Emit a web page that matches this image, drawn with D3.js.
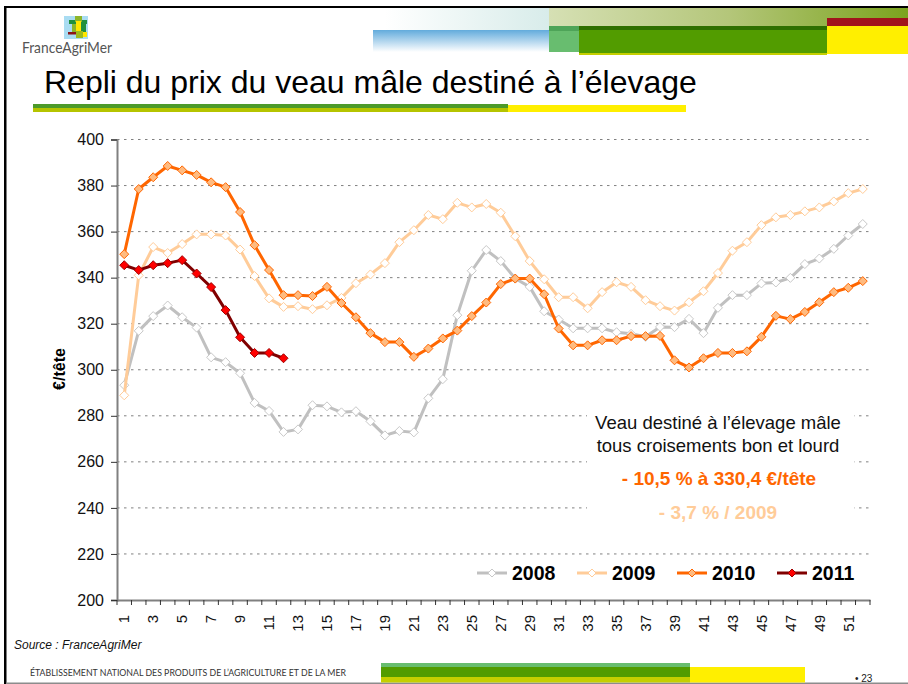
<!DOCTYPE html>
<html><head><meta charset="utf-8">
<script src="https://cdn.jsdelivr.net/npm/d3@7"></script>
<style>
html,body{margin:0;padding:0;background:#fff}
svg{display:block}
text{font-family:"Liberation Sans",Arial,sans-serif}
</style></head><body>
<svg id="c" width="908" height="684"></svg>
<script>
const weeks = d3.range(1, 53);
const yTicks = [200,220,240,260,280,300,320,340,360,380,400];
const v2008 = [293.3,316.9,323.3,327.9,322.8,318.3,305.4,303.3,298.5,285.6,282.1,273,274.1,284.6,284.1,281.5,282,277.6,271.5,273.4,272.8,287.6,295.9,323.7,343,352,347.2,339.6,336,325.4,321.8,318,318,318,316.3,315.6,314.3,318.6,318.5,322.1,315.9,326.9,332.4,332.4,337.5,337.9,339.9,345.9,348.3,352.5,358.3,363.3];
const v2009 = [288.9,341,353.3,350.7,354.6,358.8,358.8,358.3,352.2,340.7,331,327.3,327.6,326.3,328,331.2,337.6,341.4,346.3,355.4,360.6,367.2,365.4,372.5,370.5,372,368.2,358,347.2,339.3,331.5,331.5,326.7,333.7,338,336,330.2,327.6,325.7,329.3,334.1,342,351.7,355.4,362.8,366.2,367.2,368.8,370.5,373.1,376.7,378.5];
const v2010 = [350.2,378.5,383.6,388.5,386.6,384.6,381.4,379.3,368.5,354.1,343.3,332.4,332.4,332,336,329,322.8,315.9,312,312,305.6,309.2,313.6,317,323.3,329.2,337.2,339.6,339.6,332.8,317.9,310.6,310.6,312.8,312.8,314.6,314.6,314.7,304.1,301,305,307.3,307.3,308,314.3,323.4,322,325.1,329.3,333.7,335.6,338.5];
const v2011 = [345.4,343.3,345.4,346.3,347.6,341.8,335.9,325.9,314.1,307.3,307.3,305];
const seriesNames = ["2008","2009","2010","2011"];
const seriesValues = [v2008,v2009,v2010,v2011];
const lineColors = ["#c0c0c0","#ffcc99","#ff6600","#800000"];
const markerFills = ["#ffffff","#ffffff","#ffbb80","#ff0000"];
const markerStrokes = ["#c8c8c8","#ffcc99","#ff6600","#a00000"];
const legendX = [477,577,677,777];

const svg = d3.select("#c");
const defs = svg.append("defs");
function grad(id, stops, vertical){
  const g = defs.append("linearGradient").attr("id",id)
    .attr("x1",0).attr("y1",0).attr("x2",vertical?0:1).attr("y2",vertical?1:0);
  stops.forEach(s=>g.append("stop").attr("offset",s[0]).attr("stop-color",s[1]));
}
grad("olive",[[0,"#d6e0b4"],[0.5,"#b4c67a"],[1,"#7ba41e"]]);
grad("pale",[[0,"#ffffff"],[1,"#d8ecea"]]);
grad("blue",[[0,"#62abdc"],[1,"#ffffff"]],true);

function box(x,y,w,h,fill){ svg.append("rect").attr("x",x).attr("y",y).attr("width",w).attr("height",h).attr("fill",fill); }

// header decoration
box(385,8,164,22,"url(#pale)");
box(373,30,176,22,"url(#blue)");
box(549,8,359,18,"url(#olive)");
box(549,26,30,5,"#4ea458");
box(549,31,30,21,"#68bd6f");
box(579,26,248,4,"#2f6f00");
box(579,30,248,23,"#529c00");
box(579,53,248,2,"#c5cf00");
box(827,18,81,8,"#a0141c");
box(827,26,81,28,"#ffef00");

// frame
box(4,6,2.5,678,"#000");
box(4,6,904,2,"#000");
box(6,682.5,902,1.5,"#8c8c8c");

// logo
box(64,16,24,23,"#a9dcf2");
box(69,20,18,4,"#1f8f3e");
box(75,16,7,6,"#8db52a");
box(72,24,4,8,"#8db52a");
box(76,21,5,10,"#ffe600");
box(81,23,5,9,"#1f8f3e");
box(68,32,8,2.5,"#8c1414");
box(76,31,7,7,"#9dbb1e");
box(83,32,4,5,"#ffe600");
svg.append("text").attr("x",22).attr("y",53).text("FranceAgriMer")
  .attr("textLength",90).attr("lengthAdjust","spacingAndGlyphs")
  .style("font-family","Lato").style("font-size","16px").attr("fill","#555");

// title
svg.append("text").attr("x",44).attr("y",93).text("Repli du prix du veau mâle destiné à l’élevage")
  .style("font-size","32px").attr("fill","#000");
box(33,104,475,4,"#4c9a2a");
box(33,108,475,4,"#b5c400");
box(508,105,178,7,"#ffef00");

// scales
const x = d3.scaleBand().domain(weeks).range([117,870]);
const y = d3.scaleLinear().domain([200,400]).range([600,139.5]);

// grid
svg.append("g").selectAll("line").data(yTicks.filter(t=>t>200)).join("line")
  .attr("x1",117).attr("x2",870).attr("y1",d=>y(d)).attr("y2",d=>y(d))
  .attr("stroke","#808080").attr("stroke-width",1).attr("stroke-dasharray","2.5 4.5");

// text mask
box(587,410,267,115,"#fff");

// axes
const yAxis = d3.axisLeft(y).tickValues(yTicks).tickSize(6).tickPadding(7).tickFormat(d3.format("d"));
const gy = svg.append("g").attr("transform","translate(117,0)").call(yAxis);
gy.select(".domain").attr("stroke","#808080").attr("stroke-width",2);
gy.selectAll(".tick line").attr("stroke","#333");
gy.selectAll("text").style("font-family","Liberation Sans").style("font-size","16px").attr("fill","#111");

const xAxis = d3.axisBottom(x).tickValues(weeks.filter(w=>w%2===1)).tickSize(0).tickPadding(0);
const gx = svg.append("g").attr("transform","translate(0,600)").call(xAxis);
gx.select(".domain").attr("stroke","#808080").attr("stroke-width",2);
gx.selectAll("text").attr("transform","rotate(-90)").attr("x",-15).attr("y",0)
  .attr("dy","0.35em").attr("text-anchor","end")
  .style("font-family","Liberation Sans").style("font-size","15px").attr("fill","#111");
svg.append("g").selectAll("line").data(weeks.concat([53])).join("line")
  .attr("x1",d=>d<53?x(d):870).attr("x2",d=>d<53?x(d):870).attr("y1",600).attr("y2",605)
  .attr("stroke","#333");

// y title
svg.append("text").attr("transform","translate(65,369) rotate(-90)").attr("text-anchor","middle")
  .text("€/tête").style("font-size","16px").style("font-weight","bold").attr("fill","#000");

// series
const line = d3.line().x((d,i)=>x(weeks[i])+x.bandwidth()/2).y(d=>y(d));
const diamond = (cx,cy,r)=>`M${cx},${cy-r}L${cx+r},${cy}L${cx},${cy+r}L${cx-r},${cy}Z`;
seriesValues.forEach((vals,k)=>{
  svg.append("path").attr("d",line(vals)).attr("fill","none")
    .attr("stroke",lineColors[k]).attr("stroke-width",3).attr("stroke-linejoin","round");
  svg.append("g").selectAll("path").data(vals).join("path")
    .attr("d",(d,i)=>diamond(x(weeks[i])+x.bandwidth()/2,y(d),4.5))
    .attr("fill",markerFills[k]).attr("stroke",markerStrokes[k]).attr("stroke-width",1);
});

// notes
function note(cx,by,t,size,weight,fill){
  svg.append("text").attr("x",cx).attr("y",by).attr("text-anchor","middle").text(t)
    .style("font-size",size+"px").style("font-weight",weight).attr("fill",fill);
}
note(718,429,"Veau destiné à l’élevage mâle",18.5,"normal","#111");
note(718,452,"tous croisements bon et lourd",18.5,"normal","#111");
note(719,485,"- 10,5 % à 330,4 €/tête",19,"bold","#ff6600");
note(718,519,"- 3,7 % / 2009",19,"bold","#ffcc99");

// legend
seriesNames.forEach((n,k)=>{
  const lx = legendX[k];
  svg.append("line").attr("x1",lx).attr("x2",lx+30).attr("y1",573).attr("y2",573)
    .attr("stroke",lineColors[k]).attr("stroke-width",3);
  svg.append("path").attr("d",diamond(lx+15,573,4)).attr("fill",markerFills[k]).attr("stroke",markerStrokes[k]);
  svg.append("text").attr("x",lx+35).attr("y",580).text(n)
    .style("font-size","19.5px").style("font-weight","bold").attr("fill","#000");
});

// footer
svg.append("text").attr("x",14).attr("y",649).text("Source : FranceAgriMer")
  .style("font-size","12px").style("font-style","italic").attr("fill","#111");
svg.append("text").attr("x",30).attr("y",676).text("ÉTABLISSEMENT NATIONAL DES PRODUITS DE L’AGRICULTURE ET DE LA MER")
  .attr("textLength",316).attr("lengthAdjust","spacingAndGlyphs")
  .style("font-family","Lato").style("font-size","10px").attr("fill","#333");
box(381,663,309,4,"#68bd6f");
box(381,667,309,10,"#529c00");
box(381,677,309,5.5,"#c5cf00");
box(690,667,115,15.5,"#ffef00");
svg.append("text").attr("x",855).attr("y",682).text("• 23").style("font-size","10px").attr("fill","#222");
</script>
</body></html>
